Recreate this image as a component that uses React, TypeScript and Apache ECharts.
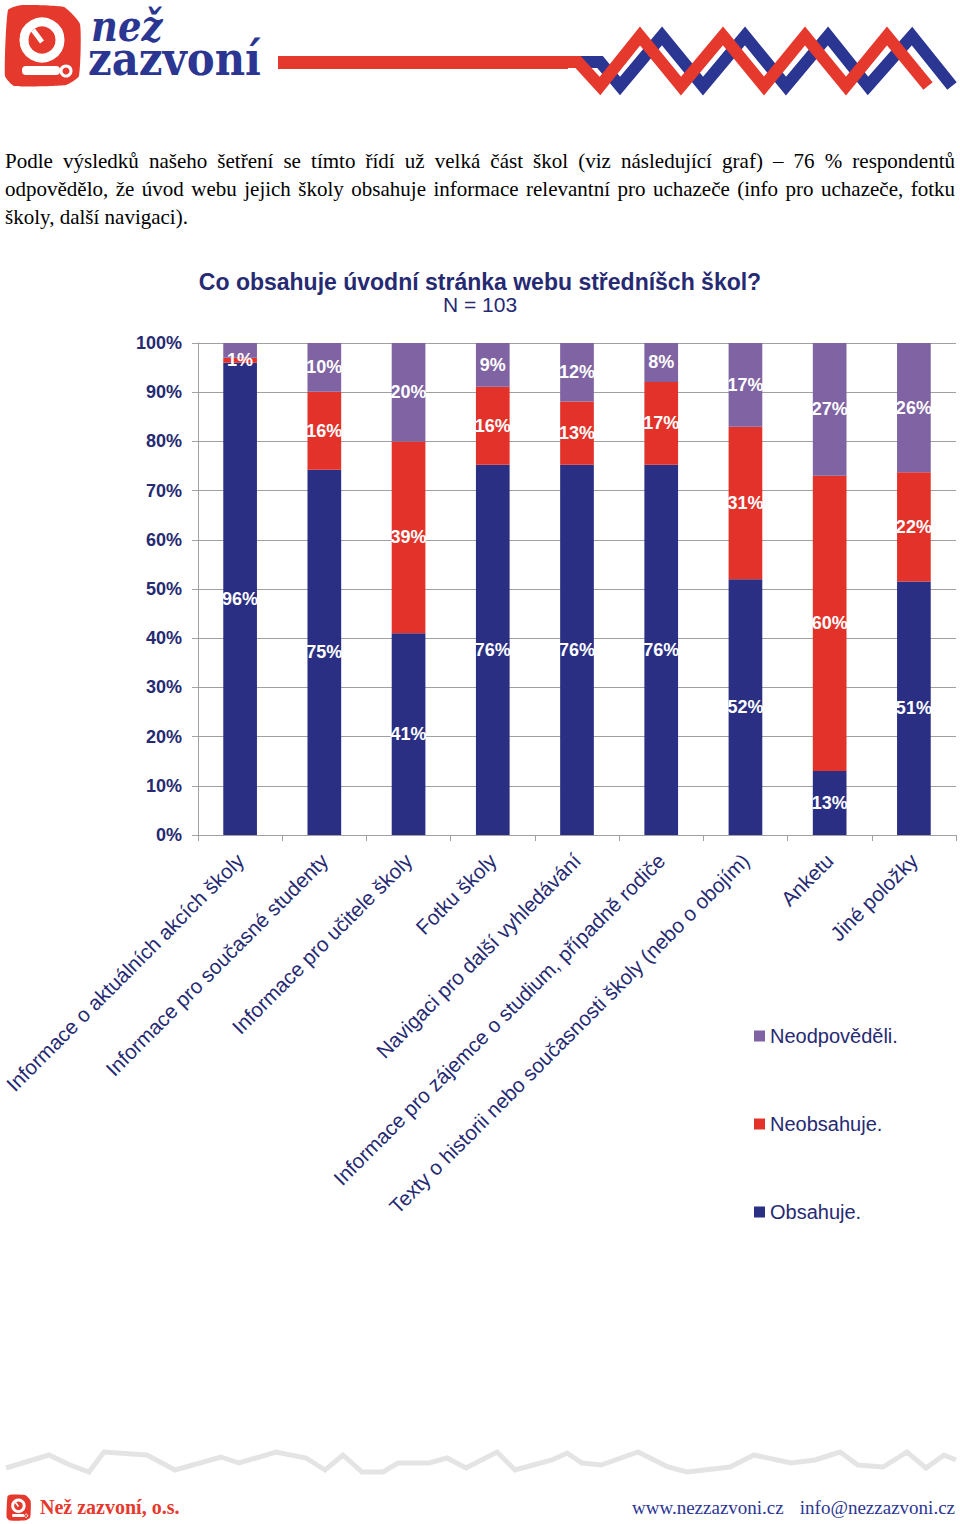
import React, { useEffect, useRef } from "react";
import * as echarts from "echarts";

const categories = [
  "Informace o aktuálních akcích školy",
  "Informace pro současné studenty",
  "Informace pro učitele školy",
  "Fotku školy",
  "Navigaci pro další vyhledávání",
  "Informace pro zájemce o studium, případně rodiče",
  "Texty o historii nebo současnosti školy (nebo o obojím)",
  "Anketu",
  "Jiné položky",
];
const obsahuje = [96, 75, 41, 76, 76, 76, 52, 13, 51];
const neobsahuje = [1, 16, 39, 16, 13, 17, 31, 60, 22];
const neodpovedeli = [3, 10, 20, 9, 12, 8, 17, 27, 26];
const unlabeledNeodpovedeli = [0];
const legendOrder = ["Neodpověděli.", "Neobsahuje.", "Obsahuje."];

const paragraphLines = [
  "Podle výsledků našeho šetření se tímto řídí už velká část škol (viz následující graf) – 76 % respondentů",
  "odpovědělo, že úvod webu jejich školy obsahuje informace relevantní pro uchazeče (info pro uchazeče, fotku",
  "školy, další navigaci).",
];

const BLUE = "#2b2f84";
const RED = "#e3322a";
const PURPLE = "#7f63a3";
const NAVY = "#262a72";
const LOGO_RED = "#e6392d";
const LOGO_BLUE = "#2b3592";
const SANS = "'Liberation Sans', Arial, sans-serif";
const SERIF = "'Liberation Serif', 'Times New Roman', serif";

function logoChildren(): any[] {
  return [
    {
      type: "polygon",
      shape: {
        points: [
          [8, 10], [22, 5], [64, 7], [80, 24], [79, 76], [66, 85], [14, 86], [5, 76],
        ],
        smooth: 0.15,
      },
      style: { fill: LOGO_RED },
    },
    { type: "circle", shape: { cx: 42, cy: 40, r: 18 }, style: { fill: "none", stroke: "#fff", lineWidth: 9 } },
    { type: "line", shape: { x1: 42, y1: 42, x2: 33, y2: 30 }, style: { stroke: "#fff", lineWidth: 5 } },
    { type: "rect", shape: { x: 22, y: 66, width: 38, height: 9, r: 4 }, style: { fill: "#fff" } },
    { type: "circle", shape: { cx: 66, cy: 71, r: 5 }, style: { fill: "none", stroke: "#fff", lineWidth: 3 } },
  ];
}

const redZig = [
  [560, 62], [578, 62], [600, 86], [640, 36], [681, 86], [723, 36], [764, 86], [805, 36], [846, 86], [887, 36], [928, 86],
];
const blueZig = [
  [578, 62], [600, 62], [620, 86], [662, 36], [703, 86], [745, 36], [786, 86], [828, 36], [868, 86], [912, 36], [952, 86],
];
const grayZig = [
  [6, 1468], [49, 1455], [70, 1465], [89, 1472], [104, 1452], [147, 1455], [175, 1470], [221, 1457], [239, 1463],
  [276, 1452], [306, 1458], [325, 1470], [343, 1455], [362, 1472], [383, 1472], [398, 1463], [429, 1463], [447, 1458],
  [466, 1468], [497, 1452], [515, 1470], [552, 1460], [567, 1453], [582, 1463], [601, 1465], [638, 1452], [668, 1467],
  [687, 1472], [730, 1467], [754, 1455], [791, 1463], [815, 1460], [840, 1452], [858, 1465], [883, 1467], [907, 1452],
  [926, 1468], [944, 1455], [956, 1460],
];

export default function App() {
  const ref = useRef<HTMLDivElement>(null);
  useEffect(() => {
    if (!ref.current) return;
    const chart = echarts.init(ref.current, undefined, { renderer: "svg" });
    const raw = [obsahuje, neobsahuje, neodpovedeli];
    // 100 % stacked: each column is scaled to its total, labels show the raw values
    const totals = categories.map((_, i) => raw.reduce((s, arr) => s + arr[i], 0));
    const share = (arr: number[]) => arr.map((v, i) => (v / totals[i]) * 100);
    const labelBase = {
      show: true,
      position: "inside" as const,
      formatter: (p: any) => `${raw[p.seriesIndex][p.dataIndex]}%`,
      color: "#fff",
      fontWeight: "bold" as const,
      fontSize: 18,
      fontFamily: SANS,
    };
    chart.setOption({
      animation: false,
      backgroundColor: "#fff",
      title: {
        text: "Co obsahuje úvodní stránka webu středníšch škol?",
        subtext: "N = 103",
        left: "center",
        top: 265,
        itemGap: 1,
        textStyle: { color: NAVY, fontSize: 23, fontWeight: "bold", fontFamily: SANS },
        subtextStyle: { color: NAVY, fontSize: 21, fontFamily: SANS },
      },
      legend: {
        data: legendOrder,
        orient: "vertical",
        left: 749,
        top: 1021,
        itemWidth: 11,
        itemHeight: 11,
        itemGap: 68,
        icon: "rect",
        textStyle: { color: NAVY, fontSize: 20, fontFamily: SANS },
      },
      grid: { left: 198, right: 4, top: 343, bottom: 689, containLabel: false, outerBoundsMode: "none" },
      xAxis: {
        type: "category",
        data: categories,
        axisLine: { lineStyle: { color: "#a0a0a0" } },
        axisTick: { show: true, length: 6, lineStyle: { color: "#a0a0a0" } },
        axisLabel: {
          interval: 0,
          rotate: 45,
          margin: 22,
          color: NAVY,
          fontSize: 20.6,
          fontFamily: SANS,
        },
      },
      yAxis: {
        type: "value",
        min: 0,
        max: 100,
        interval: 10,
        axisLine: { show: true, lineStyle: { color: "#a0a0a0" } },
        axisTick: { show: true, length: 6, lineStyle: { color: "#a0a0a0" } },
        splitLine: { lineStyle: { color: "#a0a0a0", width: 1 } },
        axisLabel: {
          formatter: "{value}%",
          color: NAVY,
          fontSize: 18,
          fontWeight: "bold",
          fontFamily: SANS,
          margin: 16,
        },
      },
      series: [
        {
          name: "Obsahuje.",
          type: "bar",
          stack: "total",
          barWidth: "40%",
          data: share(obsahuje),
          itemStyle: { color: BLUE },
          label: labelBase,
        },
        {
          name: "Neobsahuje.",
          type: "bar",
          stack: "total",
          data: share(neobsahuje),
          itemStyle: { color: RED },
          label: labelBase,
        },
        {
          name: "Neodpověděli.",
          type: "bar",
          stack: "total",
          data: share(neodpovedeli).map((v, i) =>
            unlabeledNeodpovedeli.includes(i) ? { value: v, label: { show: false } } : v
          ),
          itemStyle: { color: PURPLE },
          label: labelBase,
        },
      ],
      graphic: [
        { type: "group", x: 0, y: 0, children: logoChildren() },
        {
          type: "text",
          x: 91,
          y: 26,
          scaleY: 1.15,
          style: { text: "než", x: 0, y: 0, fill: LOGO_BLUE, font: "italic bold 37px 'DejaVu Serif', serif", verticalAlign: "middle" },
        },
        {
          type: "text",
          x: 88,
          y: 59,
          scaleX: 1.1,
          scaleY: 1.25,
          style: { text: "zazvoní", x: 0, y: 0, fill: LOGO_BLUE, font: "bold 38px 'DejaVu Serif', serif", verticalAlign: "middle" },
        },
        { type: "rect", shape: { x: 278, y: 56, width: 290, height: 13 }, style: { fill: LOGO_RED } },
        {
          type: "polyline",
          shape: { points: blueZig },
          style: { stroke: LOGO_BLUE, lineWidth: 12, fill: "none", lineJoin: "miter" },
        },
        {
          type: "polyline",
          shape: { points: redZig },
          style: { stroke: LOGO_RED, lineWidth: 12, fill: "none", lineJoin: "miter" },
        },
        {
          type: "polyline",
          shape: { points: grayZig },
          style: { stroke: "#e4e4e4", lineWidth: 5, fill: "none" },
        },
        { type: "group", x: 5, y: 1493, scaleX: 0.32, scaleY: 0.32, children: logoChildren() },
        {
          type: "text",
          x: 40,
          y: 1507,
          style: { text: "Než zazvoní, o.s.", fill: LOGO_RED, font: `bold 20px ${SERIF}`, verticalAlign: "middle" },
        },
        {
          type: "text",
          x: 632,
          y: 1507,
          style: { text: "www.nezzazvoni.cz", fill: LOGO_BLUE, font: `19px ${SERIF}`, verticalAlign: "middle" },
        },
        {
          type: "text",
          x: 955,
          y: 1507,
          style: { text: "info@nezzazvoni.cz", fill: LOGO_BLUE, font: `19px ${SERIF}`, verticalAlign: "middle", align: "right" },
        },
      ],
    });
    return () => chart.dispose();
  }, []);

  return (
    <div style={{ position: "absolute", left: 0, top: 0, width: 960, height: 1524, background: "#fff" }}>
      <div ref={ref} style={{ position: "absolute", left: 0, top: 0, width: 960, height: 1524 }} />
      <div
        style={{
          position: "absolute",
          left: 5,
          top: 147,
          width: 950,
          fontFamily: SERIF,
          fontSize: 21,
          lineHeight: "28px",
          color: "#000",
          pointerEvents: "none",
        }}
      >
        {paragraphLines.map((line, i) => (
          <div
            key={i}
            style={{
              textAlign: "justify",
              textAlignLast: i < paragraphLines.length - 1 ? "justify" : "left",
              whiteSpace: "nowrap",
            }}
          >
            {line}
          </div>
        ))}
      </div>
    </div>
  );
}
